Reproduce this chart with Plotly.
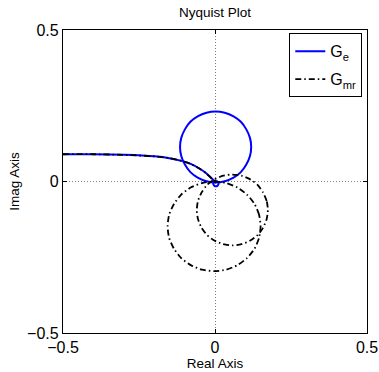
import plotly.graph_objects as go

# ---- data (Nyquist curves) ----
# low-frequency tail shared by both systems
tail_re = [-0.5, -0.4, -0.3, -0.2, -0.15, -0.11, -0.08, -0.05, -0.03, -0.015, -0.005, 0.0]
tail_im = [0.090, 0.090, 0.088, 0.083, 0.077, 0.068, 0.058, 0.042, 0.028, 0.014, 0.005, 0.0]

# G_e : small loop near origin
ge_loop_re = [0.012, 0.009, 0.003, -0.003, -0.006, -0.003, 0.003, 0.009, 0.012]
ge_loop_im = [-0.007, -0.001, 0.002, -0.001, -0.007, -0.013, -0.016, -0.013, -0.007]
# G_e : large loop above the real axis
ge_circ_re = [0.002, 0.032, 0.061, 0.085, 0.103, 0.115, 0.119, 0.115, 0.103, 0.085, 0.061, 0.032,
              0.002, -0.028, -0.057, -0.081, -0.099, -0.111, -0.115, -0.111, -0.099, -0.081,
              -0.057, -0.028, 0.002]
ge_circ_im = [-0.003, 0.001, 0.013, 0.031, 0.056, 0.084, 0.114, 0.144, 0.172, 0.197, 0.215, 0.227,
              0.231, 0.227, 0.215, 0.197, 0.172, 0.144, 0.114, 0.084, 0.056, 0.031,
              0.013, 0.001, -0.003]

# G_mr : large loop below the real axis
gmr_big_re = [0.150, 0.145, 0.130, 0.105, 0.074, 0.037, -0.003, -0.043, -0.080, -0.111, -0.135,
              -0.151, -0.156, -0.151, -0.135, -0.111, -0.080, -0.043, -0.003, 0.037, 0.074,
              0.105, 0.130, 0.145, 0.150]
gmr_big_im = [-0.148, -0.110, -0.074, -0.043, -0.020, -0.005, 0.000, -0.005, -0.020, -0.043, -0.074,
              -0.110, -0.148, -0.186, -0.222, -0.253, -0.276, -0.291, -0.296, -0.291, -0.276,
              -0.253, -0.222, -0.186, -0.148]
# G_mr : smaller loop
gmr_small_re = [0.174, 0.170, 0.158, 0.140, 0.116, 0.087, 0.057, 0.027, -0.002, -0.026, -0.044,
                -0.056, -0.060, -0.056, -0.044, -0.026, -0.002, 0.027, 0.057, 0.087, 0.116,
                0.140, 0.158, 0.170, 0.174]
gmr_small_im = [-0.094, -0.064, -0.036, -0.011, 0.007, 0.019, 0.023, 0.019, 0.007, -0.011, -0.036,
                -0.064, -0.094, -0.124, -0.153, -0.177, -0.195, -0.207, -0.211, -0.207, -0.195,
                -0.177, -0.153, -0.124, -0.094]

tick_vals = [-0.5, 0, 0.5]
tick_text = ["\u22120.5", "0", "0.5"]

FONT = "Liberation Sans, Arial, Helvetica, sans-serif"

ge_x = tail_re + [None] + ge_loop_re + [None] + ge_circ_re
ge_y = tail_im + [None] + ge_loop_im + [None] + ge_circ_im
gmr_x = tail_re + [None] + gmr_big_re + [None] + gmr_small_re
gmr_y = tail_im + [None] + gmr_big_im + [None] + gmr_small_im

fig = go.Figure()
fig.add_trace(go.Scatter(x=ge_x, y=ge_y, mode="lines", name="G<sub>e</sub>",
                         legendgroup="a",
                         line=dict(color="#0000ff", width=2, shape="spline", smoothing=0.6)))
fig.add_trace(go.Scatter(x=gmr_x, y=gmr_y, mode="lines", name="G<sub>mr</sub>",
                         legendgroup="b",
                         line=dict(color="#000000", width=1.8, dash="6px,3px,1.5px,3px",
                                   shape="spline", smoothing=0.6)))

axis_common = dict(
    range=[-0.5, 0.5], tickvals=tick_vals, ticktext=tick_text,
    showline=True, linecolor="black", linewidth=1.2, mirror="ticks",
    ticks="inside", ticklen=4, tickcolor="black",
    showgrid=True, gridcolor="#7f7f7f", gridwidth=1, griddash="1px,2px",
    zeroline=False, tickfont=dict(family=FONT, size=16, color="black"),
    fixedrange=True, automargin=False,
)

fig.update_layout(
    width=379, height=372,
    margin=dict(l=63, r=12, t=30, b=39, autoexpand=False),
    paper_bgcolor="white", plot_bgcolor="white",
    font=dict(family=FONT, color="black"),
    title=dict(text="Nyquist Plot", x=0.5, xref="paper", xanchor="center",
               y=1 - 12.5 / 372, yref="container", yanchor="middle",
               font=dict(family=FONT, size=13.5, color="black")),
    xaxis=dict(**axis_common,
               title=dict(text="Real Axis", standoff=2, font=dict(family=FONT, size=13.5))),
    yaxis=dict(**axis_common,
               title=dict(text="Imag Axis", standoff=4, font=dict(family=FONT, size=13.5))),
    legend=dict(x=0.9845, y=0.989, xanchor="right", yanchor="top",
                bgcolor="white", bordercolor="black", borderwidth=1,
                font=dict(family=FONT, size=16, color="black"),
                tracegroupgap=4, itemwidth=30),
    showlegend=True,
)

fig.write_html("out.html")
